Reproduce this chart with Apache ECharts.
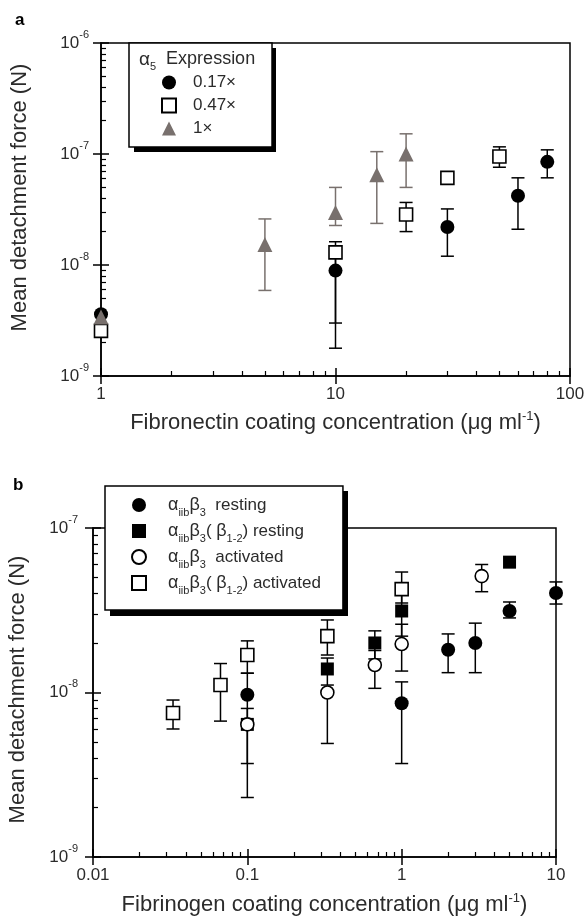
<!DOCTYPE html>
<html>
<head>
<meta charset="utf-8">
<script src="https://cdn.jsdelivr.net/npm/echarts@6/dist/echarts.min.js"></script>
<style>
  html, body { margin: 0; background: #fff; }
  #chart { width: 585px; height: 919px; }
</style>
</head>
<body>
<div id="chart"></div>
<script>
// ---- panel a : fibronectin ----
var fnMajor = [1, 10, 100];
var fnMinor = [2, 3, 4, 5, 6, 7, 8, 9, 20, 30, 40, 50, 60, 70, 80, 90];
var forceMajorA = [1e-9, 1e-8, 1e-7, 1e-6];
var forceMinorA = [2e-9, 3e-9, 4e-9, 5e-9, 6e-9, 7e-9, 8e-9, 9e-9,
  2e-8, 3e-8, 4e-8, 5e-8, 6e-8, 7e-8, 8e-8, 9e-8,
  2e-7, 3e-7, 4e-7, 5e-7, 6e-7, 7e-7, 8e-7, 9e-7];

var a017X = [1, 10, 30, 60, 80];
var a017Y = [3.6e-9, 8.9e-9, 2.2e-8, 4.2e-8, 8.5e-8];
var a017Lo = [null, 1.78e-9, 1.2e-8, 2.1e-8, 6.1e-8];
var a017Hi = [null, 1.2e-8, 3.2e-8, 6.1e-8, 1.09e-7];

var a047X = [1, 10, 20, 30, 50];
var a047Y = [2.55e-9, 1.3e-8, 2.85e-8, 6.1e-8, 9.5e-8];
var a047Lo = [null, 3.0e-9, 2.0e-8, null, 7.6e-8];
var a047Hi = [null, 1.62e-8, 3.66e-8, null, 1.16e-7];

var a1X = [1, 5, 10, 15, 20];
var a1Y = [3.4e-9, 1.53e-8, 2.97e-8, 6.5e-8, 1.0e-7];
var a1Lo = [null, 5.9e-9, 2.27e-8, 2.37e-8, 5.0e-8];
var a1Hi = [null, 2.6e-8, 5.0e-8, 1.05e-7, 1.52e-7];

// ---- panel b : fibrinogen ----
var fgMajor = [0.01, 0.1, 1, 10];
var fgMinor = [0.02, 0.03, 0.04, 0.05, 0.06, 0.07, 0.08, 0.09,
  0.2, 0.3, 0.4, 0.5, 0.6, 0.7, 0.8, 0.9, 2, 3, 4, 5, 6, 7, 8, 9];
var forceMajorB = [1e-9, 1e-8, 1e-7];
var forceMinorB = [2e-9, 3e-9, 4e-9, 5e-9, 6e-9, 7e-9, 8e-9, 9e-9,
  2e-8, 3e-8, 4e-8, 5e-8, 6e-8, 7e-8, 8e-8, 9e-8];

var restX = [0.1, 1, 2, 3, 5, 10];
var restY = [9.7e-9, 8.6e-9, 1.82e-8, 2.0e-8, 3.13e-8, 4.03e-8];
var restLo = [2.3e-9, 3.7e-9, 1.32e-8, 1.32e-8, 2.84e-8, 3.45e-8];
var restHi = [1.31e-8, 1.16e-8, 2.27e-8, 2.64e-8, 3.55e-8, 4.7e-8];

var rest12X = [0.1, 0.33, 0.67, 1, 5];
var rest12Y = [6.4e-9, 1.39e-8, 2.0e-8, 3.13e-8, 6.2e-8];
var rest12Lo = [3.7e-9, 1.11e-8, 1.6e-8, 2.2e-8, null];
var rest12Hi = [8.0e-9, 1.62e-8, 2.37e-8, 4.0e-8, null];

var actX = [0.1, 0.33, 0.67, 1, 3.3];
var actY = [6.4e-9, 1.0e-8, 1.47e-8, 1.97e-8, 5.1e-8];
var actLo = [null, 4.9e-9, 1.06e-8, 1.35e-8, 4.1e-8];
var actHi = [null, 1.0e-8, 1.8e-8, 2.6e-8, 6.0e-8];

var act12X = [0.033, 0.067, 0.1, 0.33, 1];
var act12Y = [7.5e-9, 1.11e-8, 1.69e-8, 2.2e-8, 4.25e-8];
var act12Lo = [6.0e-9, 6.7e-9, 1.31e-8, 1.69e-8, 3.5e-8];
var act12Hi = [9.0e-9, 1.5e-8, 2.06e-8, 2.76e-8, 5.4e-8];

var FONT = 'Liberation Sans';
var TXT = '#2b2b2b';
var GRAY = '#78706d';

function pts(xs, ys) {
  return xs.map(function (x, i) { return [x, ys[i]]; });
}
function bars(xs, lo, hi) {
  var out = [];
  for (var i = 0; i < xs.length; i++) {
    if (lo[i] != null) out.push([xs[i], lo[i], hi[i]]);
  }
  return out;
}

// error bar with caps
function errRender(params, api) {
  var x = api.value(0);
  var top = api.coord([x, api.value(2)]);
  var bot = api.coord([x, api.value(1)]);
  var w = 6.5;
  var st = { stroke: api.visual('color'), lineWidth: 1.5 };
  return {
    type: 'group',
    children: [
      { type: 'line', shape: { x1: top[0], y1: top[1], x2: bot[0], y2: bot[1] }, style: st },
      { type: 'line', shape: { x1: top[0] - w, y1: top[1], x2: top[0] + w, y2: top[1] }, style: st },
      { type: 'line', shape: { x1: bot[0] - w, y1: bot[1], x2: bot[0] + w, y2: bot[1] }, style: st }
    ]
  };
}

var supRich = {
  b: { fontSize: 17, fontFamily: FONT, color: TXT, lineHeight: 28 },
  p: { fontSize: 11, fontFamily: FONT, color: TXT, verticalAlign: 'top', lineHeight: 11 }
};
var nameRich = {
  t: { fontSize: 22, fontFamily: FONT, color: TXT, lineHeight: 26 },
  p: { fontSize: 13, fontFamily: FONT, color: TXT, verticalAlign: 'top', lineHeight: 12 }
};

function xLabel(v) {
  return v >= 1 ? String(Math.round(v)) : String(+v.toPrecision(1));
}
function yLabel(v) {
  return '{b|10}{p|' + Math.round(Math.log10(v)) + '}';
}

var lineSt = { color: '#000', width: 1.5 };

// three axes per side: labels + outer major ticks, inner major ticks, inner minor ticks
function axes(dim, grid, min, max, major, minor, name, gap, margin, shift) {
  var pos = dim === 'x' ? 'bottom' : 'left';
  var base = function () {
    return { type: 'log', gridIndex: grid, min: min, max: max, position: pos,
      splitLine: { show: false }, axisLabel: { show: false } };
  };
  var a0 = base();
  a0.axisLine = { show: true, lineStyle: lineSt };
  a0.axisTick = { show: true, inside: false, length: 8, customValues: major, lineStyle: lineSt };
  a0.axisLabel = {
    show: true, customValues: major, margin: margin,
    fontSize: 17, fontFamily: FONT, color: TXT,
    formatter: dim === 'x' ? xLabel : yLabel,
    rich: supRich
  };
  a0.name = name;
  a0.nameLocation = 'middle';
  a0.nameGap = gap;
  a0.nameTextStyle = { fontSize: 22, fontFamily: FONT, color: TXT, lineHeight: 24,
    padding: [0, 0, 0, shift || 0], rich: nameRich };
  var a1 = base();
  a1.axisLine = { show: false };
  a1.axisTick = { show: true, inside: true, length: 8, customValues: major, lineStyle: lineSt };
  var a2 = base();
  a2.axisLine = { show: false };
  a2.axisTick = { show: true, inside: true, length: 5, customValues: minor, lineStyle: { color: '#000', width: 1.2 } };
  return [a0, a1, a2];
}

var xAxes = axes('x', 0, 1, 100, fnMajor, fnMinor,
  '{t|Fibronectin coating concentration (μg ml}{p|-1}{t|)}', 34, 10)
  .concat(axes('x', 1, 0.01, 10, fgMajor, fgMinor,
  '{t|Fibrinogen coating concentration (μg ml}{p|-1}{t|)}', 35, 10));
var yAxes = axes('y', 0, 1e-9, 1e-6, forceMajorA, forceMinorA, 'Mean detachment force (N)', 69, 12, 24)
  .concat(axes('y', 1, 1e-9, 1e-7, forceMajorB, forceMinorB, 'Mean detachment force (N)', 63, 15, 6));

function scatter(name, xi, data, symbol, size, fill, stroke) {
  return {
    name: name, type: 'scatter', xAxisIndex: xi, yAxisIndex: xi, data: data,
    symbol: symbol, symbolSize: size, clip: false, z: 5,
    itemStyle: { color: fill, borderColor: stroke, borderWidth: fill === '#fff' ? 1.6 : 0, opacity: 1 }
  };
}
function errors(xi, data, color) {
  return {
    type: 'custom', xAxisIndex: xi, yAxisIndex: xi, data: data, z: 3, clip: false,
    encode: { x: 0, y: [1, 2] }, renderItem: errRender, itemStyle: { color: color },
    silent: true
  };
}

var legendNamesB = {
  rest: '{sp|}{g|α}{s|iib}{g|β}{s|3}{t|  resting}',
  rest12: '{sp|}{g|α}{s|iib}{g|β}{s|3}{t|( }{g|β}{s|1-2}{t|) resting}',
  act: '{sp|}{g|α}{s|iib}{g|β}{s|3}{t|  activated}',
  act12: '{sp|}{g|α}{s|iib}{g|β}{s|3}{t|( }{g|β}{s|1-2}{t|) activated}'
};

var chart = echarts.init(document.getElementById('chart'), null, { renderer: 'canvas' });
chart.setOption({
  animation: false,
  backgroundColor: '#fff',
  grid: [
    { left: 101, top: 43, width: 469, height: 333, show: true, borderColor: '#000', borderWidth: 1.5, outerBoundsMode: 'none' },
    { left: 93, top: 528, width: 463, height: 329, show: true, borderColor: '#000', borderWidth: 1.5, outerBoundsMode: 'none' }
  ],
  xAxis: xAxes,
  yAxis: yAxes,
  legend: [
    {
      data: ['0.17×', '0.47×', '1×'], orient: 'vertical', left: 129, top: 43,
      padding: [30, 36, 9, 32], itemWidth: 14, itemHeight: 14, itemGap: 4,
      backgroundColor: '#fff', borderColor: '#000', borderWidth: 1.5,
      selectedMode: false, z: 10,
      formatter: function (n) { return '{sp|}' + n; },
      textStyle: { fontSize: 17, fontFamily: FONT, color: TXT, lineHeight: 19,
        rich: { sp: { width: 12 } } }
    },
    {
      data: ['rest', 'rest12', 'act', 'act12'], orient: 'vertical', left: 105, top: 486,
      padding: [10, 22, 14, 26], itemWidth: 14, itemHeight: 14, itemGap: 4,
      backgroundColor: '#fff', borderColor: '#000', borderWidth: 1.5,
      selectedMode: false, z: 10,
      formatter: function (n) { return legendNamesB[n]; },
      textStyle: {
        fontSize: 17, fontFamily: FONT, color: TXT,
        rich: {
          sp: { width: 17 },
          t: { fontSize: 17, fontFamily: FONT, color: TXT, lineHeight: 26 },
          g: { fontSize: 18, fontFamily: FONT, color: TXT, lineHeight: 26 },
          s: { fontSize: 11, fontFamily: FONT, color: TXT, verticalAlign: 'bottom', lineHeight: 10 }
        }
      }
    }
  ],
  graphic: [
    { type: 'text', left: 15, top: 12, style: { text: 'a', font: 'bold 17px ' + FONT, fill: '#000' } },
    { type: 'text', left: 13, top: 477, style: { text: 'b', font: 'bold 17px ' + FONT, fill: '#000' } },
    // drop shadows behind the two legend boxes
    { type: 'rect', z: 9, shape: { x: 134, y: 48, width: 142, height: 104 }, style: { fill: '#000' } },
    { type: 'rect', z: 9, shape: { x: 110, y: 491, width: 238, height: 125 }, style: { fill: '#000' } },
    {
      type: 'text', left: 139, top: 50, z: 20,
      style: {
        text: '{g|α}{s|5}{t|  Expression}',
        rich: {
          t: { fontSize: 18, fontFamily: FONT, fill: TXT, lineHeight: 26 },
          g: { fontSize: 19, fontFamily: FONT, fill: TXT, lineHeight: 26 },
          s: { fontSize: 11, fontFamily: FONT, fill: TXT, verticalAlign: 'bottom', lineHeight: 10 }
        }
      }
    }
  ],
  series: [
    errors(0, bars(a017X, a017Lo, a017Hi), '#000'),
    errors(0, bars(a047X, a047Lo, a047Hi), '#000'),
    errors(0, bars(a1X, a1Lo, a1Hi), GRAY),
    scatter('0.17×', 0, pts(a017X, a017Y), 'circle', 14, '#000', '#000'),
    scatter('0.47×', 0, pts(a047X, a047Y), 'rect', 13, '#fff', '#000'),
    scatter('1×', 0, pts(a1X, a1Y), 'triangle', 15, GRAY, GRAY),

    errors(3, bars(restX, restLo, restHi), '#000'),
    errors(3, bars(rest12X, rest12Lo, rest12Hi), '#000'),
    errors(3, bars(actX, actLo, actHi), '#000'),
    errors(3, bars(act12X, act12Lo, act12Hi), '#000'),
    scatter('rest', 3, pts(restX, restY), 'circle', 14, '#000', '#000'),
    scatter('rest12', 3, pts(rest12X, rest12Y), 'rect', 13, '#000', '#000'),
    scatter('act', 3, pts(actX, actY), 'circle', 13, '#fff', '#000'),
    scatter('act12', 3, pts(act12X, act12Y), 'rect', 13, '#fff', '#000')
  ]
});
</script>
</body>
</html>
